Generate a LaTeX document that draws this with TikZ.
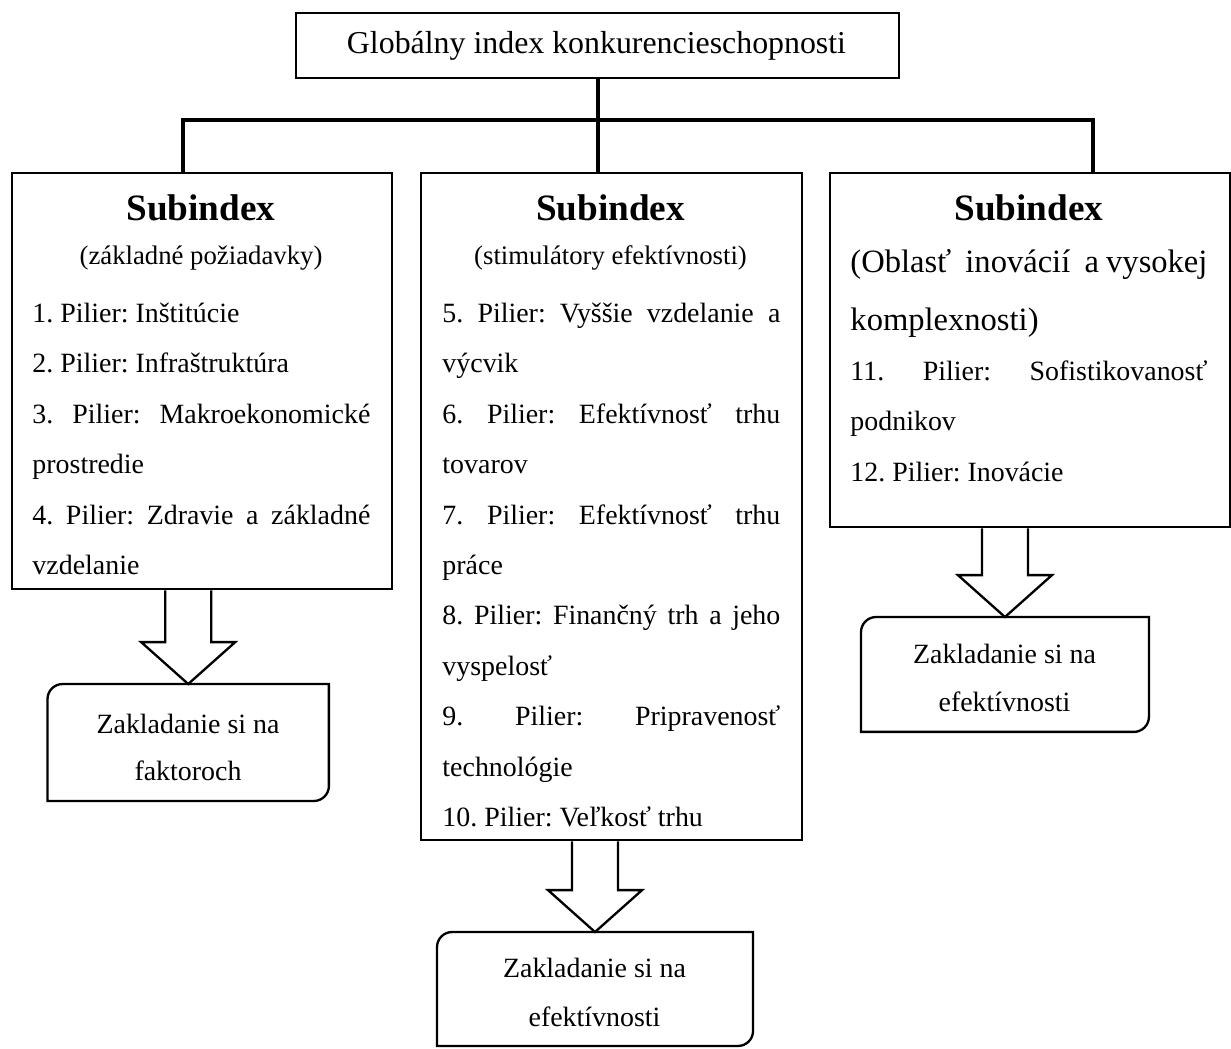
\documentclass[tikz,border=0pt]{standalone}
\usepackage{fontspec}
\setmainfont{Liberation Serif}
\usetikzlibrary{calc}
\frenchspacing
\newcommand\jline[2]{\makebox[#1][s]{#2}}
\newcommand\diagframe[1]{\draw[boxline] (#1.north east) -- ([xshift=6.5pt]#1.north west) .. controls ([xshift=2.9pt]#1.north west) and ([yshift=-2.9pt]#1.north west) .. ([yshift=-6.5pt]#1.north west) -- (#1.south west) -- ([xshift=-6.5pt]#1.south east) .. controls ([xshift=-2.9pt]#1.south east) and ([yshift=2.9pt]#1.south east) .. ([yshift=6.5pt]#1.south east) -- cycle;}
\newcommand\blockarrow[2]{\draw[arrline] let \p1=(#1), \p2=(#2) in (\x2-9.9pt,\y1) -- (\x2-9.9pt,\y2+18pt) -- (\x2-20.2pt,\y2+18pt) -- (\x2,\y2) -- (\x2+20.2pt,\y2+18pt) -- (\x2+9.9pt,\y2+18pt) -- (\x2+9.9pt,\y1);}
\begin{document}
\frenchspacing
\begin{tikzpicture}[x=0.43pt,y=-0.43pt,
  boxline/.style={draw, line width=1pt},
  frame/.style={boxline, rectangle, inner sep=0pt, anchor=north west},
  rframe/.style={draw=none, rectangle, inner sep=0pt, anchor=north west},
  tree/.style={line width=1.7pt},
  arrline/.style={line width=1pt, line join=miter},
  lineL/.style={inner sep=0pt, anchor=base west, font=\fontsize{12}{14}\selectfont\frenchspacing},
  lineC/.style={inner sep=0pt, anchor=base, font=\fontsize{12}{14}\selectfont},
  bigL/.style={inner sep=0pt, anchor=base west, font=\fontsize{14}{17}\selectfont\frenchspacing},
  head/.style={inner sep=0pt, anchor=base, font=\fontsize{16}{19}\selectfont\bfseries},
  paren/.style={inner sep=0pt, anchor=base, font=\fontsize{11.5}{14}\selectfont},
]
\useasboundingbox (0,0) rectangle (1231,1048);

% frames
\node[frame, minimum width=259.3pt, minimum height=27.95pt] (top) at (295,12) {};
\node[frame, minimum width=163.4pt, minimum height=178.9pt] (lb) at (11,172) {};
\node[frame, minimum width=163.8pt, minimum height=286.8pt] (mb) at (420,172) {};
\node[frame, minimum width=172pt, minimum height=152.2pt] (rb) at (829,172) {};
\node[rframe, minimum width=120.6pt, minimum height=49.9pt] (fl) at (47.5,684) {};
\node[rframe, minimum width=135.5pt, minimum height=48.6pt] (fm) at (437,932) {};
\node[rframe, minimum width=123.4pt, minimum height=49pt] (fr) at (861,617) {};
\diagframe{fl}
\diagframe{fm}
\diagframe{fr}

% tree connectors
\coordinate (busL) at (183,120);
\coordinate (busR) at (1093,120);
\draw[tree] (top.south) -- (top.south |- mb.north);
\draw[tree] (busL |- lb.north) -- (busL) -- (busR) -- (busR |- rb.north);

% block arrows
\blockarrow{lb.south -| fl.north}{fl.north}
\blockarrow{mb.south -| fm.north}{fm.north}
\blockarrow{rb.south -| fr.north}{fr.north}

% top text
\node[inner sep=0pt, anchor=base, font=\fontsize{13.7}{16}\selectfont] (tt) at (596.5,53) {Globálny index konkurencieschopnosti};

% left box
\node[head] (lh) at (201,220) {Subindex};
\node[paren] (lp) at (201,264) {(základné požiadavky)};
\node[lineL] (l1) at (32,322) {1. Pilier: Inštitúcie};
\node[lineL] (l2) at (32,372) {2. Pilier: Infraštruktúra};
\node[lineL] (l3) at (32,423) {\jline{145.3pt}{3. Pilier: Makroekonomické}};
\node[lineL] (l4) at (32,473) {prostredie};
\node[lineL] (l5) at (32,524) {\jline{145.3pt}{4. Pilier: Zdravie a základné}};
\node[lineL] (l6) at (32,574) {vzdelanie};

% middle box
\node[head] (mh) at (610.5,220) {Subindex};
\node[paren] (mp) at (610.5,264) {(stimulátory efektívnosti)};
\node[lineL] (m1) at (442,322) {\jline{145.3pt}{5. Pilier: Vyššie vzdelanie a}};
\node[lineL] (m2) at (442,372) {výcvik};
\node[lineL] (m3) at (442,423) {\jline{145.3pt}{6. Pilier: Efektívnosť trhu}};
\node[lineL] (m4) at (442,473) {tovarov};
\node[lineL] (m5) at (442,524) {\jline{145.3pt}{7. Pilier: Efektívnosť trhu}};
\node[lineL] (m6) at (442,574) {práce};
\node[lineL] (m7) at (442,624) {\jline{145.3pt}{8. Pilier: Finančný trh a jeho}};
\node[lineL] (m8) at (442,675) {vyspelosť};
\node[lineL] (m9) at (442,725) {\jline{145.3pt}{9. Pilier: Pripravenosť}};
\node[lineL] (m10) at (442,776) {technológie};
\node[lineL] (m11) at (442,826) {10. Pilier: Veľkosť trhu};

% right box
\node[head] (rh) at (1029,220) {Subindex};
\node[bigL] (r1) at (850,272) {\jline{153.5pt}{(Oblasť\ \ inovácií\ \ a vysokej}};
\node[bigL] (r2) at (850,330) {komplexnosti)};
\node[lineL] (r3) at (850,380) {\jline{153.5pt}{11. Pilier: Sofistikovanosť}};
\node[lineL] (r4) at (850,430) {podnikov};
\node[lineL] (r5) at (850,481) {12. Pilier: Inovácie};

% rounded box texts
\node[lineC] (fl1) at (188,733) {Zakladanie si na};
\node[lineC] (fl2) at (188,780) {faktoroch};
\node[lineC] (fm1) at (594.5,977) {Zakladanie si na};
\node[lineC] (fm2) at (594.5,1026) {efektívnosti};
\node[lineC] (fr1) at (1004.5,663) {Zakladanie si na};
\node[lineC] (fr2) at (1004.5,711) {efektívnosti};
\end{tikzpicture}
\end{document}
